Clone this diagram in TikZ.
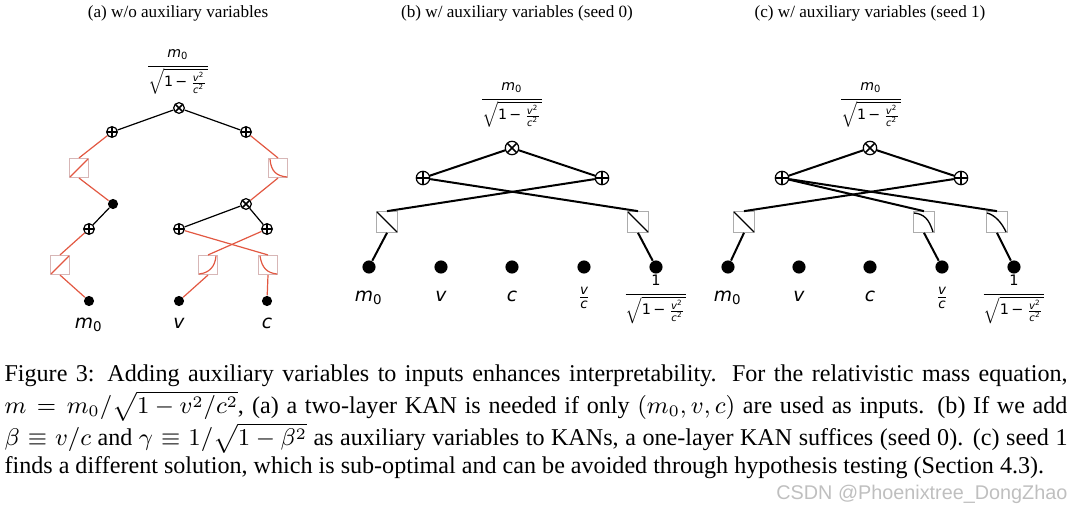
\documentclass[tikz,border=0pt]{standalone}
\usepackage{amsmath}
\usepackage{fontspec}
\setmainfont{Liberation Serif}
\newfontfamily\dv{DejaVu Sans}
\newfontfamily\wm{Liberation Sans}
\newcommand\vi[1]{\text{\dv\itshape #1}}
\newcommand\vr[1]{\text{\dv #1}}
\newcommand\gfrac{\sqrt{\vr{1\,−\,}\frac{\vi{v}^{\vr{2}}}{\vi{c}^{\vr{2}}}}}
\definecolor{kred}{RGB}{226,88,66}
\definecolor{kpink}{RGB}{215,182,182}
\definecolor{kgray}{RGB}{172,172,172}
\tikzset{
  opbase/.style={circle,draw,fill=white,inner sep=0pt,minimum size=#1,line width=0.45pt},
  plusop/.style={opbase=#1,path picture={\draw[line width=0.6pt]
     (path picture bounding box.north) -- (path picture bounding box.south)
     (path picture bounding box.west) -- (path picture bounding box.east);}},
  timesop/.style={opbase=#1,path picture={\draw[line width=0.6pt]
     (path picture bounding box.north west) -- (path picture bounding box.south east)
     (path picture bounding box.north east) -- (path picture bounding box.south west);}},
  dotnode/.style={circle,fill=black,inner sep=0pt,minimum size=#1},
  boxA/.style={draw=kpink,line width=0.4pt,inner sep=0pt,minimum size=7.1pt},
  boxB/.style={draw=kgray,line width=0.4pt,inner sep=0pt,minimum size=7.7pt},
  edA/.style={line width=0.45pt,black},
  edAr/.style={line width=0.45pt,kred},
  edB/.style={line width=0.75pt,black},
  crvA/.style={line width=0.45pt,kred},
  crvB/.style={line width=0.5pt,black},
  ttl/.style={font=\fontsize{6.4pt}{7pt}\selectfont},
  lbl/.style={inner sep=0pt,font=\fontsize{7pt}{8pt}\selectfont},
  toplbl/.style={inner sep=0pt,font=\fontsize{5.3pt}{6pt}\selectfont},
  botlbl/.style={inner sep=0pt,font=\fontsize{5.4pt}{6pt}\selectfont},
  capline/.style={anchor=base west,inner sep=0pt,font=\fontsize{9pt}{11pt}\selectfont},
}
\begin{document}
\begin{tikzpicture}[x=0.37347pt,y=-0.37347pt]
\useasboundingbox (0,0) rectangle (1071,511);

% ---------- titles ----------
\node[ttl,anchor=base] (tta) at (178,18) {(a) w/o auxiliary variables};
\node[ttl,anchor=base] (ttb) at (517,18) {(b) w/ auxiliary variables (seed 0)};
\node[ttl,anchor=base] (ttc) at (870,18) {(c) w/ auxiliary variables (seed 1)};

% ---------- panel (a) ----------
\node[toplbl] (la) at (178,72) {$\dfrac{\vi{m}_{\vr{0}}}{\gfrac}$};
\node[timesop=4pt] (ta1) at (179,108) {};
\node[plusop=4pt] (pa1) at (112,132) {};
\node[plusop=4pt] (pa2) at (246,132) {};
\node[boxA] (ba1) at (79,168) {};
\node[boxA] (ba2) at (278,168) {};
\node[dotnode=3.8pt] (ha) at (113,204) {};
\node[timesop=4pt] (ta2) at (246,204) {};
\node[plusop=4pt] (pa3) at (89,229) {};
\node[plusop=4pt] (pa4) at (179,229) {};
\node[plusop=4pt] (pa5) at (267,229) {};
\node[boxA] (ba3) at (60,265) {};
\node[boxA] (ba4) at (208,265) {};
\node[boxA] (ba5) at (268,265) {};
\node[dotnode=3.8pt] (ia1) at (89,301) {};
\node[dotnode=3.8pt] (ia2) at (179,301) {};
\node[dotnode=3.8pt] (ia3) at (267,301) {};
\node[lbl] (lm) at (89,325) {$\vi{m}_{\vr{0}}$};
\node[lbl] (lv) at (179,323) {$\vi{v}$};
\node[lbl] (lc) at (267,323) {$\vi{c}$};

\draw[edA] (ta1) -- (pa1);
\draw[edA] (ta1) -- (pa2);
\draw[edAr] (pa1) -- (ba1.north);
\draw[edAr] (ba1.south) -- (ha);
\draw[edAr] (pa2) -- (ba2.north);
\draw[edAr] (ba2.south) -- (ta2);
\draw[edA] (ha) -- (pa3);
\draw[edA] (ta2) -- (pa4);
\draw[edA] (ta2) -- (pa5);
\draw[edAr] (pa3) -- (ba3.north);
\draw[edAr] (ba3.south) -- (ia1);
\draw[edAr] (pa4) -- (ba5.north);
\draw[edAr] (pa5) -- (ba4.north);
\draw[edAr] (ba4.south) -- (ia2);
\draw[edAr] (ba5.south) -- (ia3);

\draw[crvA,shift={(ba1.center)}] (-9,9) -- (9,-9);
\draw[crvA,shift={(ba3.center)}] (-9,9) -- (9,-9);
\draw[crvA,shift={(ba2.center)}] (-8,-9) .. controls (-7,4) and (-1,8) .. (9,9);
\draw[crvA,shift={(ba4.center)}] (-9,9) .. controls (1,8) and (7,2) .. (8,-9);
\draw[crvA,shift={(ba5.center)}] (-8,-9) .. controls (-6,4) and (0,8) .. (9,9);

% ---------- panel (b) ----------
\node[toplbl] (lb) at (512,105) {$\dfrac{\vi{m}_{\vr{0}}}{\gfrac}$};
\node[timesop=5pt] (tb) at (512,148) {};
\node[plusop=5pt] (pb1) at (423,178) {};
\node[plusop=5pt] (pb2) at (602,178) {};
\node[boxB] (bb1) at (387,222) {};
\node[boxB] (bb2) at (638,222) {};
\node[dotnode=4.9pt] (ib1) at (369,267) {};
\node[dotnode=4.9pt] (ib2) at (441,267) {};
\node[dotnode=4.9pt] (ib3) at (512,267) {};
\node[dotnode=4.9pt] (ib4) at (584,267) {};
\node[dotnode=4.9pt] (ib5) at (656,267) {};
\node[lbl] (lbm) at (369,298) {$\vi{m}_{\vr{0}}$};
\node[lbl] (lbv) at (441,296) {$\vi{v}$};
\node[lbl] (lbc) at (512,296) {$\vi{c}$};
\node[lbl] (lbvc) at (584,298) {$\frac{\vi{v}}{\vi{c}}$};
\node[botlbl] (lbg) at (656,299) {$\dfrac{\vr{1}}{\gfrac}$};

\draw[edB] (tb) -- (pb1);
\draw[edB] (tb) -- (pb2);
\draw[edB] (pb1) -- (bb2.north);
\draw[edB] (pb2) -- (bb1.north);
\draw[edB] (bb1.south) -- (ib1);
\draw[edB] (bb2.south) -- (ib5);
\draw[crvB,shift={(bb1.center)}] (-10,-10) -- (10,10);
\draw[crvB,shift={(bb2.center)}] (-10,-10) -- (10,10);

% ---------- panel (c) ----------
\node[toplbl] (lcc) at (871,105) {$\dfrac{\vi{m}_{\vr{0}}}{\gfrac}$};
\node[timesop=5pt] (tc) at (870,148) {};
\node[plusop=5pt] (pc1) at (782,178) {};
\node[plusop=5pt] (pc2) at (961,178) {};
\node[boxB] (bc1) at (744,222) {};
\node[boxB] (bc2) at (924,222) {};
\node[boxB] (bc3) at (997,222) {};
\node[dotnode=4.9pt] (ic1) at (728,267) {};
\node[dotnode=4.9pt] (ic2) at (799,267) {};
\node[dotnode=4.9pt] (ic3) at (870,267) {};
\node[dotnode=4.9pt] (ic4) at (942,267) {};
\node[dotnode=4.9pt] (ic5) at (1014,267) {};
\node[lbl] (lcm) at (728,298) {$\vi{m}_{\vr{0}}$};
\node[lbl] (lcv) at (799,296) {$\vi{v}$};
\node[lbl] (lccc) at (870,296) {$\vi{c}$};
\node[lbl] (lcvc) at (942,298) {$\frac{\vi{v}}{\vi{c}}$};
\node[botlbl] (lcg) at (1014,299) {$\dfrac{\vr{1}}{\gfrac}$};

\draw[edB] (tc) -- (pc1);
\draw[edB] (tc) -- (pc2);
\draw[edB] (pc2) -- (bc1.north);
\draw[edB] (pc1) -- (bc2.north);
\draw[edB] (pc1) -- (bc3.north);
\draw[edB] (bc1.south) -- (ic1);
\draw[edB] (bc2.south) -- (ic4);
\draw[edB] (bc3.south) -- (ic5);
\draw[crvB,shift={(bc1.center)}] (-10,-10) -- (10,10);
\draw[crvB,shift={(bc2.center)}] (-10,-9) .. controls (0,-8) and (5,-3) .. (9,10);
\draw[crvB,shift={(bc3.center)}] (-10,-9) .. controls (-2,-7) and (5,1) .. (9,10);

% ---------- caption ----------
\node[capline] (c1) at (4,382) {\makebox[397pt][s]{Figure 3: Adding auxiliary variables to inputs enhances interpretability. For the relativistic mass equation,}};
\node[capline] (c2) at (4,414) {\makebox[397pt][s]{$m = m_0/\sqrt{1-v^2/c^2}$, (a) a two-layer KAN is needed if only $(m_0, v, c)$ are used as inputs. (b) If we add}};
\node[capline] (c3) at (4,446) {\makebox[397pt][s]{$\beta \equiv v/c$ and $\gamma \equiv 1/\sqrt{1-\beta^2}$ as auxiliary variables to KANs, a one-layer KAN suffices (seed 0). (c) seed 1}};
\node[capline] (c4) at (4,474) {finds a different solution, which is sub-optimal and can be avoided through hypothesis testing (Section 4.3).};

\node[anchor=base east,inner sep=0pt,text=black!25,font=\wm\fontsize{7.4pt}{8pt}\selectfont] (wmk) at (1068,500) {CSDN @Phoenixtree\_DongZhao};
\end{tikzpicture}
\end{document}
